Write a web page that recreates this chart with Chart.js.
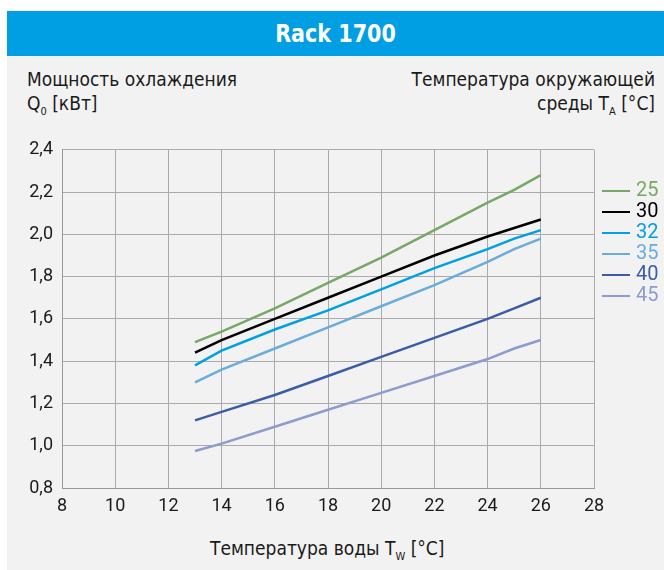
<!DOCTYPE html>
<html>
<head>
<meta charset="utf-8">
<script src="https://cdn.jsdelivr.net/npm/chart.js@4/dist/chart.umd.min.js"></script>
<style>
  body { margin: 0; background: #fff; width: 664px; height: 570px; overflow: hidden; position: relative;
         font-family: 'Liberation Sans Narrow', 'DejaVu Sans Condensed', Roboto, sans-serif; color: #1a1a1a; }
  #panel { position: absolute; left: 7px; top: 11px; width: 657px; height: 559px; background: #f2f2f2; }
  #titlebar { position: absolute; left: 0; top: 0; width: 657px; height: 45px; background: #009fe3; }
  #titlebar div { color: #fff; font-weight: bold; font-size: 25px; text-align: center; line-height: 45px;
                  transform: scaleX(0.92); }
  .lbl { position: absolute; font-size: 19px; line-height: 24px; white-space: nowrap; }
  .lbl sub { font-size: 11px; vertical-align: -5px; }
  #chartbox { position: absolute; left: 0; top: 130px; width: 664px; height: 400px; }
  #legend { position: absolute; left: 602px; top: 179px; font-family: Roboto, sans-serif; font-size: 20px; }
  #legend div { height: 21px; line-height: 21px; white-space: nowrap; }
  #legend span.ln { display: inline-block; width: 28px; height: 2px; vertical-align: middle; margin-right: 6px; }
</style>
</head>
<body>
<div id="panel">
  <div id="titlebar"><div>Rack 1700</div></div>
</div>
<div class="lbl" style="left:27px; top:67px;">Мощность охлаждения</div>
<div class="lbl" style="left:27px; top:91px;">Q<sub>0</sub> [кВт]</div>
<div class="lbl" style="right:9px; top:67px; text-align:right;">Температура окружающей</div>
<div class="lbl" style="right:9px; top:91px; text-align:right;">среды T<sub>A</sub> [°C]</div>
<div id="chartbox"><canvas id="rackChart" width="664" height="400"></canvas></div>
<div class="lbl" style="left:210px; top:536px;">Температура воды T<sub>W</sub> [°C]</div>
<div id="legend"></div>

<script>
// Температура воды (ось X)
const waterTemp = [13, 14, 16, 18, 20, 22, 24, 25, 26];

// Температура окружающей среды -> мощность охлаждения, кВт
const ambientLabels = ['25', '30', '32', '35', '40', '45'];
const q25 = [1.49, 1.54, 1.65, 1.77, 1.89, 2.02, 2.15, 2.21, 2.28];
const q30 = [1.44, 1.50, 1.60, 1.70, 1.80, 1.90, 1.99, 2.03, 2.07];
const q32 = [1.38, 1.45, 1.55, 1.64, 1.74, 1.84, 1.93, 1.98, 2.02];
const q35 = [1.30, 1.36, 1.46, 1.56, 1.66, 1.76, 1.87, 1.93, 1.98];
const q40 = [1.12, 1.16, 1.24, 1.33, 1.42, 1.51, 1.60, 1.65, 1.70];
const q45 = [0.975, 1.01, 1.09, 1.17, 1.25, 1.33, 1.41, 1.46, 1.50];

const colors = ['#77a865', '#000000', '#00a0e3', '#6aacdc', '#3b5ca6', '#8e9bcd'];
const seriesData = [q25, q30, q32, q35, q40, q45];

const datasets = seriesData.map(function (vals, i) {
    return {
        label: ambientLabels[i],
        data: waterTemp.map(function (x, j) { return { x: x, y: vals[j] }; }),
        borderColor: colors[i],
        borderWidth: 2.5,
        pointRadius: 0,
        tension: 0,
        fill: false
    };
});

// Легенда справа
const legendEl = document.getElementById('legend');
ambientLabels.forEach(function (lab, i) {
    const row = document.createElement('div');
    row.innerHTML = '<span class="ln" style="background:' + colors[i] + '"></span>' +
        '<span style="color:' + colors[i] + '">' + lab + '</span>';
    legendEl.appendChild(row);
});

const tickFont = { family: 'Roboto, sans-serif', size: 18 };

new Chart(document.getElementById('rackChart').getContext('2d'), {
    type: 'line',
    data: { datasets: datasets },
    options: {
        responsive: false,
        animation: false,
        layout: { padding: { left: 0, top: 19, right: 70, bottom: 0 } },
        plugins: { legend: { display: false }, tooltip: { enabled: false } },
        scales: {
            x: {
                type: 'linear', min: 8, max: 28,
                ticks: { stepSize: 2, color: '#1a1a1a', font: tickFont, padding: 8 },
                grid: { color: '#aaaaaa', drawTicks: false },
                border: { color: '#999999' },
                afterFit: function (s) { s.height = 42; }
            },
            y: {
                min: 0.8, max: 2.4,
                ticks: {
                    stepSize: 0.2, color: '#1a1a1a', font: tickFont, padding: 9,
                    callback: function (v) { return v.toFixed(1).replace('.', ','); }
                },
                grid: { color: '#aaaaaa', drawTicks: false },
                border: { color: '#999999' },
                afterFit: function (s) { s.width = 62; }
            }
        }
    }
});
</script>
</body>
</html>
